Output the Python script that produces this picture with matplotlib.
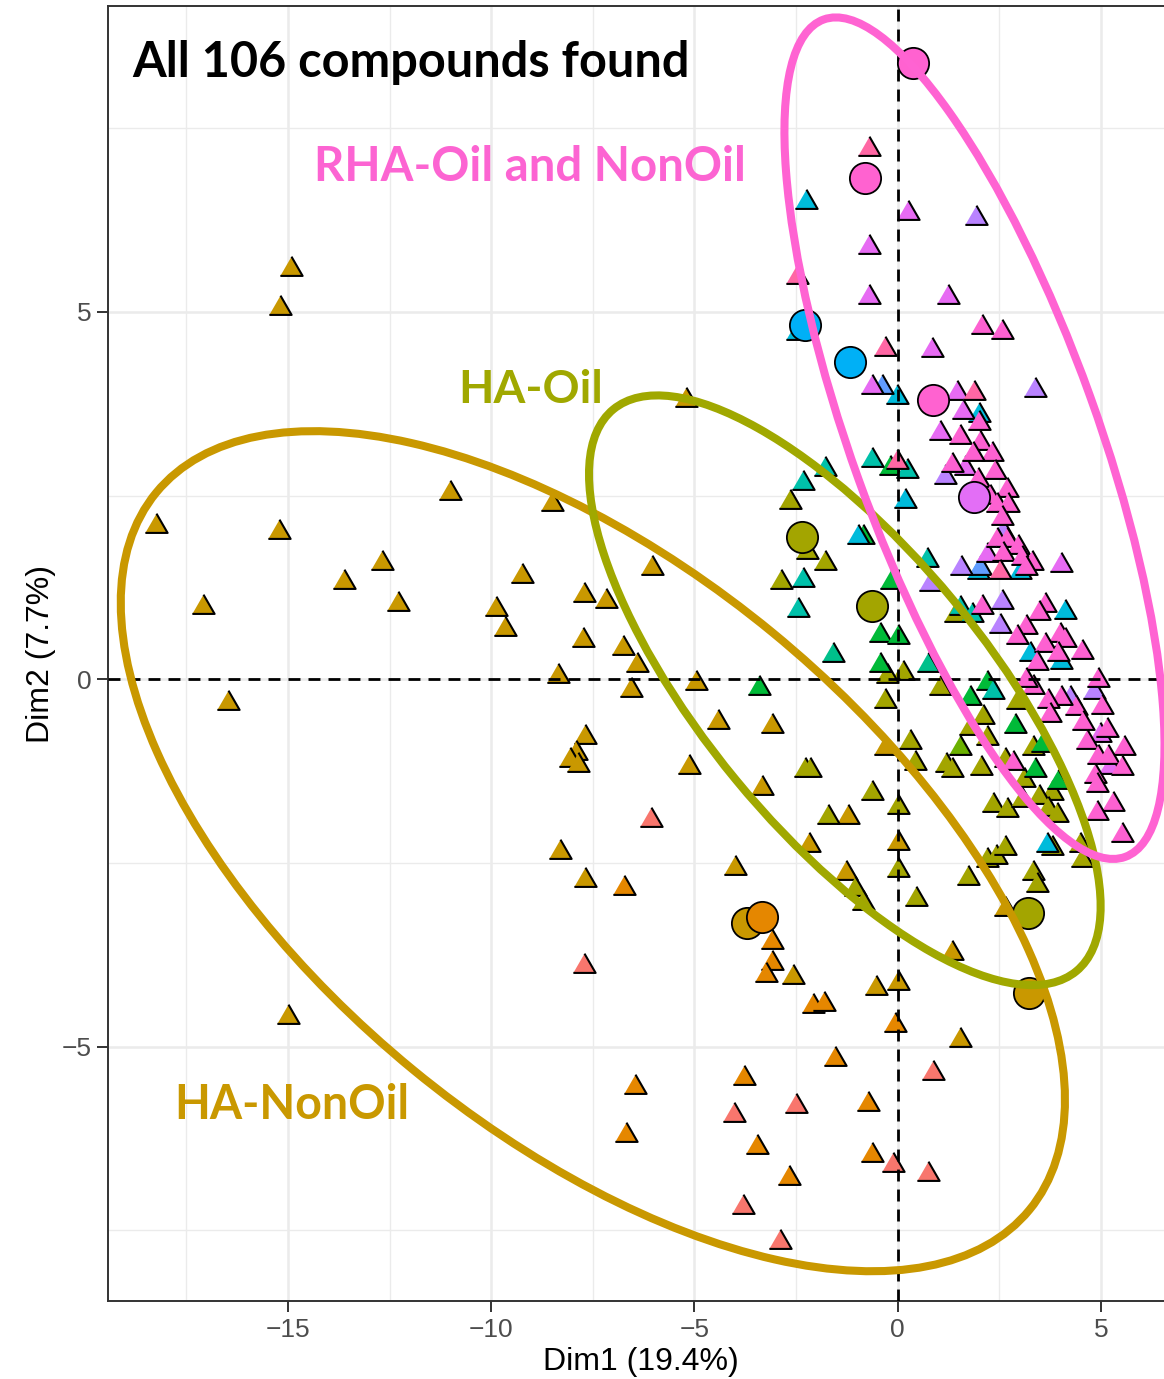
import matplotlib
matplotlib.use("Agg")
import matplotlib.pyplot as plt
from matplotlib.patches import Ellipse
from matplotlib.transforms import ScaledTranslation

# ---------------------- individuals (Dim1, Dim2) ----------------------
red_pts = [(-6.08, -1.92), (-7.72, -3.90), (-4.03, -5.93), (-2.51, -5.81), (-0.12, -6.61),
           (-3.81, -7.18), (-2.90, -7.66), (0.86, -5.36), (0.74, -6.73)]

orange_pts = [(-6.74, -2.84), (-3.10, -3.58), (-3.10, -3.86), (-3.25, -4.03), (-2.09, -4.45),
              (-1.82, -4.42), (-0.07, -4.71), (-1.53, -5.17), (-6.47, -5.55), (-6.69, -6.20),
              (-3.79, -5.42), (-3.47, -6.37), (-0.74, -5.78), (-0.64, -6.48), (-2.68, -6.79)]

gold_pts = [(-14.93, 5.58), (-15.20, 5.05), (-18.25, 2.08), (-15.23, 2.01), (-11.02, 2.53),
            (-8.51, 2.39), (-17.10, 0.98), (-13.63, 1.32), (-12.69, 1.58), (-12.30, 1.02),
            (-9.25, 1.41), (-9.89, 0.95), (-9.67, 0.69), (-16.48, -0.33), (-15.00, -4.60),
            (-7.72, 1.14), (-7.18, 1.07), (-6.05, 1.52), (-7.75, 0.53), (-6.77, 0.42),
            (-6.42, 0.19), (-8.36, 0.05), (-6.57, -0.15), (-4.97, -0.05), (-4.43, -0.58),
            (-7.70, -0.78), (-7.92, -1.01), (-8.07, -1.10), (-7.87, -1.17), (-5.14, -1.20),
            (-8.31, -2.35), (-7.70, -2.73), (-5.22, 3.80), (-3.08, -0.63), (-3.35, -1.48),
            (-2.19, -2.26), (0.02, -2.23), (-4.01, -2.57), (-1.28, -2.64), (-1.23, -1.88),
            (-0.32, -0.94), (-2.58, -4.05), (-0.54, -4.20), (0.02, -4.14), (1.33, -3.73),
            (1.53, -4.91), (2.63, -3.12)]

olive_pts = [(-2.88, 1.32), (-2.66, 2.41), (-2.24, 1.73), (-1.80, 1.58), (-0.32, -0.29),
             (0.12, 0.08), (-0.27, 0.05), (1.03, -0.12), (2.09, -0.52), (1.77, -0.67),
             (2.19, -0.80), (2.93, -0.31), (3.32, -0.94), (0.30, -0.86), (-2.29, -1.24),
             (-2.16, -1.24), (0.42, -1.14), (1.20, -1.17), (1.33, -1.24), (2.04, -1.21),
             (2.63, -1.10), (3.12, -1.37), (3.79, -1.55), (-0.62, -1.55), (0.02, -1.74),
             (-1.72, -1.88), (2.34, -1.71), (2.68, -1.78), (3.05, -1.65), (3.49, -1.60),
             (3.69, -1.76), (3.91, -1.85), (0.00, -2.60), (-1.06, -2.86), (-0.86, -3.05),
             (0.44, -2.99), (1.72, -2.71), (2.19, -2.46), (2.41, -2.42), (2.63, -2.30),
             (3.32, -2.63), (3.44, -2.80), (3.79, -2.30), (4.48, -2.26), (4.53, -2.46),
             (1.40, 0.87)]

lime_pts = [(1.53, -0.94)]

green_pts = [(-3.42, -0.12), (1.77, -0.26), (2.21, -0.05), (2.88, -0.63), (3.54, -0.90),
             (3.39, -1.24), (3.94, -1.40), (-0.86, 1.93), (-0.17, 1.32), (-0.44, 0.60),
             (0.00, 0.57), (-0.44, 0.19), (-0.20, 2.88)]

sgreen_pts = [(-1.60, 0.33), (0.74, 0.19)]

teal_pts = [(-0.62, 2.98), (0.22, 2.84), (-1.80, 2.86), (-2.34, 2.67), (-2.34, 1.35),
            (-2.46, 0.94), (0.71, 1.62), (1.53, 0.97), (1.82, 0.87), (2.34, -0.18)]

cyan_pts = [(-2.26, 6.49), (-2.48, 4.71), (-0.02, 3.84), (1.99, 3.59), (0.17, 2.42),
            (-0.98, 1.93), (1.97, 1.46), (3.00, 1.46), (4.11, 0.91), (3.25, 0.35),
            (4.03, 0.23), (3.67, -2.26)]

blue_pts = [(-0.39, 3.97), (2.02, 1.51)]

purple_pts = [(1.94, 6.27), (3.39, 3.93), (1.16, 2.75), (2.58, 2.00), (1.55, 1.51),
              (2.56, 1.05), (2.51, 0.73), (0.79, 1.29), (4.82, -0.18), (4.23, -0.26)]

violet_pts = [(0.25, 6.35), (-0.71, 5.88), (-0.71, 5.20), (1.25, 5.20), (0.84, 4.48),
              (-0.64, 3.97), (1.45, 3.89), (1.60, 3.63), (1.03, 3.35), (1.65, 2.87),
              (2.19, 1.69), (4.03, 1.55), (4.97, -0.76), (5.22, -1.20)]

pink_pts = [(2.07, 4.79), (2.56, 4.72), (1.99, 3.48), (1.53, 3.29), (2.02, 3.22),
            (2.31, 3.07), (1.85, 3.07), (1.33, 2.91), (2.39, 2.82), (1.97, 2.71),
            (2.68, 2.57), (2.26, 2.48), (2.44, 2.37), (2.71, 2.37), (2.56, 2.19),
            (2.44, 1.89), (2.68, 1.89), (2.95, 1.80), (2.58, 1.71), (3.05, 1.65),
            (3.30, 1.58), (3.17, 1.51), (2.07, 0.98), (3.62, 1.01), (3.49, 0.90),
            (3.17, 0.71), (2.93, 0.57), (3.99, 0.60), (4.11, 0.53), (3.62, 0.46),
            (4.53, 0.37), (3.94, 0.35), (3.42, 0.22), (4.94, -0.01), (5.02, -0.38),
            (4.40, -0.39), (4.03, -0.26), (3.69, -0.29), (3.74, -0.49), (3.32, -0.11),
            (3.15, -0.01), (4.55, -0.60), (5.14, -0.69), (4.65, -0.86), (5.58, -0.94),
            (4.92, -1.06), (5.17, -1.06), (5.51, -1.21), (4.85, -1.31), (4.90, -1.44),
            (5.29, -1.70), (4.90, -1.82), (5.53, -2.12), (2.83, -1.14)]

rose_pts = [(-0.71, 7.22), (-2.48, 5.47), (-0.32, 4.50), (1.89, 3.90), (-0.02, 2.95),
            (2.51, 1.46)]

# ---------------------- group centres (big circles) ----------------------
center_pink = [(0.37, 8.38), (-0.81, 6.82), (0.86, 3.80)]
center_violet = [(1.89, 2.48)]
center_azure = [(-2.29, 4.82), (-1.18, 4.31)]
center_olive = [(-2.36, 1.93), (-0.62, 1.00), (3.20, -3.18)]
center_gold = [(-3.71, -3.32), (3.22, -4.27)]
center_orange = [(-3.35, -3.24)]

x_ticks = [-15, -10, -5, 0, 5]
y_ticks = [-5, 0, 5]

# ---------------------------------------------------------------------------

tri = [(-1, -0.577), (1, -0.577), (0, 1.155)]

fig = plt.figure(figsize=(11.64, 13.79), dpi=100)
ax = fig.add_axes([0.0928, 0.0566, 0.9158, 0.939])

ax.set_xlim(-19.43, 6.80)
ax.set_ylim(-8.46, 9.16)

# grid (theme_bw look)
ax.set_xticks(x_ticks)
ax.set_yticks(y_ticks)
ax.set_xticks([-17.5, -12.5, -7.5, -2.5, 2.5], minor=True)
ax.set_yticks([-7.5, -2.5, 2.5, 7.5], minor=True)
ax.grid(which="major", color="#EBEBEB", lw=1.8)
ax.grid(which="minor", color="#EBEBEB", lw=1.0)
ax.set_axisbelow(True)
ax.tick_params(which="minor", length=0)
ax.tick_params(which="major", length=8, width=1.4, color="#333333",
               labelsize=19, labelcolor="#4D4D4D", pad=4)
for s in ax.spines.values():
    s.set_color("#333333")
    s.set_linewidth(1.4)

ax.set_xticklabels([f"\u2212{-t}" if t < 0 else str(t) for t in x_ticks],
                   fontfamily="Liberation Sans")
ax.set_yticklabels([f"\u2212{-t}" if t < 0 else str(t) for t in y_ticks],
                   fontfamily="Liberation Sans")

ax.set_xlabel("Dim1 (19.4%)", fontsize=23, fontfamily="Liberation Sans", labelpad=4)
ax.set_ylabel("Dim2 (7.7%)", fontsize=23, fontfamily="Liberation Sans", labelpad=4)

# triangles
tri_groups = [
    (red_pts, "#F8766D"), (orange_pts, "#E58700"), (gold_pts, "#C99800"),
    (olive_pts, "#A3A500"), (lime_pts, "#6BB100"), (green_pts, "#00BA38"),
    (sgreen_pts, "#00C08B"), (teal_pts, "#00C1AA"), (cyan_pts, "#00BBDB"),
    (blue_pts, "#619CFF"), (purple_pts, "#B983FF"), (violet_pts, "#E76BF3"),
    (pink_pts, "#FD61D1"), (rose_pts, "#FF67A4"),
]
for pts, col in tri_groups:
    xs = [p[0] for p in pts]
    ys = [p[1] for p in pts]
    ax.scatter(xs, ys, marker=tri, s=18.5 ** 2, c=col, edgecolors="black",
               linewidths=1.5, zorder=3)

# dashed origin lines
ax.axhline(0, color="black", lw=2.0, ls=(0, (4.3, 2.9)), zorder=4)
ax.axvline(0, color="black", lw=2.0, ls=(0, (4.3, 2.9)), zorder=4)

# big circles
circle_groups = [
    (center_pink, "#FF62D0"), (center_violet, "#E36EF6"), (center_azure, "#00B0F6"),
    (center_olive, "#A3A500"), (center_gold, "#C99800"), (center_orange, "#E58700"),
]
for pts, col in circle_groups:
    xs = [p[0] for p in pts]
    ys = [p[1] for p in pts]
    ax.scatter(xs, ys, marker="o", s=22.5 ** 2, c=col, edgecolors="black",
               linewidths=1.3, zorder=5)

# hand-drawn group outlines (size in inches, angle on screen)
def outline(cx, cy, w, h, angle, col):
    trans = fig.dpi_scale_trans + ScaledTranslation(cx, cy, ax.transData)
    e = Ellipse((0, 0), w, h, angle=angle, transform=trans, fill=False,
                ec=col, lw=5.8, zorder=6, clip_on=False)
    ax.add_patch(e)

outline(-7.50, -2.34, 11.30, 5.66, -39.4, "#C99800")
outline(-1.30, -0.15, 7.28, 2.82, -50.5, "#A0A800")
outline(1.89, 3.28, 8.90, 2.46, -70.2, "#FF63D2")

# labels
lab_font = "Lato"
ax.text(-18.84, 8.39, "All 106 compounds found", fontsize=35, fontweight="bold",
        fontfamily=lab_font, color="black", ha="left", va="center", zorder=7)
ax.text(-14.37, 6.97, "RHA-Oil and NonOil", fontsize=34, fontweight="bold",
        fontfamily=lab_font, color="#FC64D2", ha="left", va="center", zorder=7)
ax.text(-10.80, 3.93, "HA-Oil", fontsize=33, fontweight="bold",
        fontfamily=lab_font, color="#A0A800", ha="left", va="center", zorder=7)
ax.text(-17.79, -5.80, "HA-NonOil", fontsize=33.5, fontweight="bold",
        fontfamily=lab_font, color="#C99800", ha="left", va="center", zorder=7)

plt.savefig("out.png", dpi=100)
plt.close()
